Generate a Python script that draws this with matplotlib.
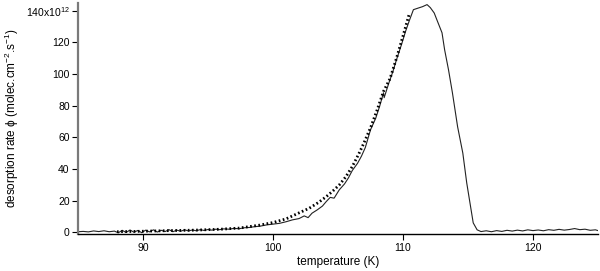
import numpy as np
import matplotlib
matplotlib.use("Agg")
import matplotlib.pyplot as plt

plt.rcParams['font.family'] = ['Liberation Sans', 'DejaVu Sans']
plt.rcParams['mathtext.fontset'] = 'custom'
plt.rcParams['mathtext.rm'] = 'Liberation Sans'
plt.rcParams['mathtext.it'] = 'Liberation Sans:italic'

# medido (traço contínuo)
temp_exp = [85.0, 85.4, 85.8, 86.2, 86.6, 87.0, 87.4, 87.8, 88.1, 88.4, 88.7, 89.0,
            89.3, 89.6, 89.9, 90.2, 90.5, 90.8, 91.1, 91.4, 91.7, 92.0, 92.3, 92.6,
            92.9, 93.2, 93.5, 93.8, 94.1, 94.4, 94.7, 95.0, 95.3, 95.6, 95.9, 96.2,
            96.6, 97.0, 97.4, 97.8, 98.2, 98.6, 99.0, 99.5, 100.0, 100.5, 101.0, 101.5,
            102.0, 102.4, 102.7, 103.0, 103.4, 103.8, 104.1, 104.4, 104.7, 105.1, 105.5,
            105.8, 106.1, 106.5, 106.8, 107.1, 107.5, 107.9, 108.2, 108.5, 108.55, 108.9,
            109.2, 109.5, 109.9, 110.2, 110.5, 110.8, 111.2, 111.5, 111.85, 112.1, 112.4,
            112.6, 113.0, 113.2, 113.5, 113.8, 114.2, 114.6, 114.9, 115.2, 115.4, 115.7,
            116.0, 116.4, 116.8, 117.2, 117.6, 118.0, 118.4, 118.8, 119.2, 119.6, 120.0,
            120.4, 120.8, 121.2, 121.6, 122.0, 122.4, 122.8, 123.2, 123.6, 124.0, 124.4,
            124.8, 125.0]
taxa_exp = [0.3, 0.5, 0.2, 0.8, 0.4, 0.9, 0.3, 0.7, -0.4, 1.2, -0.2, 1.4,
            0.0, 1.1, -0.3, 1.3, 0.2, 1.5, 0.1, 1.2, 0.4, 1.6, 0.3, 1.3,
            0.6, 1.5, 0.8, 1.4, 0.9, 1.6, 1.1, 1.7, 1.3, 1.9, 1.6, 2.1,
            1.9, 2.4, 2.2, 2.8, 3.0, 3.5, 3.8, 4.6, 5.1, 5.6, 6.6, 7.8,
            8.6, 10.3, 9.2, 12.0, 14.1, 16.5, 19.4, 22.0, 21.5, 26.8, 30.5,
            34.3, 39.0, 43.5, 48.0, 53.5, 64.7, 72.0, 79.5, 88.1, 85.0, 94.0,
            101.0, 109.0, 119.0, 127.0, 134.0, 140.6, 141.7, 142.5, 143.8, 141.9, 138.5,
            134.3, 126.0, 115.3, 102.6, 88.1, 66.6, 50.0, 31.2, 16.0, 5.9, 1.5,
            0.4, 0.9, 0.3, 1.0, 0.5, 1.2, 0.7, 1.3, 0.8, 1.5, 1.0,
            1.4, 0.9, 1.6, 1.2, 1.8, 1.3, 1.7, 2.3, 1.6, 1.9, 1.2,
            1.5, 1.0]

# ajuste (traço pontilhado)
temp_fit = [88.0, 90.0, 92.0, 94.0, 96.0, 97.4, 99.0, 100.0, 101.0, 101.5, 102.0,
            102.8, 103.5, 104.1, 104.6, 105.1, 105.6, 106.1, 106.6, 107.0, 107.5,
            108.0, 108.5, 109.0, 109.5, 110.0, 110.5]
taxa_fit = [0.3, 0.6, 1.0, 1.3, 1.9, 2.6, 4.5, 6.1, 8.4, 10.3, 12.2,
            15.2, 18.8, 22.5, 26.0, 29.9, 35.0, 41.5, 49.5, 56.5, 66.0,
            77.0, 89.0, 97.0, 110.0, 124.0, 138.5]

fig = plt.figure(figsize=(6.0, 2.71), dpi=100)
ax = fig.add_axes([0.13, 0.135, 0.8667, 0.855])

ax.plot(temp_exp, taxa_exp, color='#222222', lw=0.8)
ax.plot(temp_fit, taxa_fit, color='black', lw=2.0, linestyle=(0, (0.6, 0.9)))

ax.set_xlim(85, 125)
ax.set_ylim(-1.4, 145)
ax.set_xticks([90, 100, 110, 120])
ax.set_yticks([0, 20, 40, 60, 80, 100, 120, 140])
ax.set_yticklabels(['0', '20', '40', '60', '80', '100', '120', r'140x10$^{12}$'])

for s in ['top', 'right']:
    ax.spines[s].set_visible(False)
ax.spines['left'].set_color('#7a7a7a')
ax.spines['left'].set_linewidth(1.6)
ax.spines['bottom'].set_linewidth(1.0)
ax.tick_params(direction='out', length=4, width=0.8, labelsize=7.5, pad=2)

ax.set_xlabel('temperature (K)', fontsize=8.5, labelpad=2)
ax.set_ylabel(u'desorption rate ϕ (molec.cm$^{-2}$.s$^{-1}$)', fontsize=8.5)
ax.yaxis.set_label_coords(-0.11, 0.5)

fig.savefig('out.png', dpi=100)
